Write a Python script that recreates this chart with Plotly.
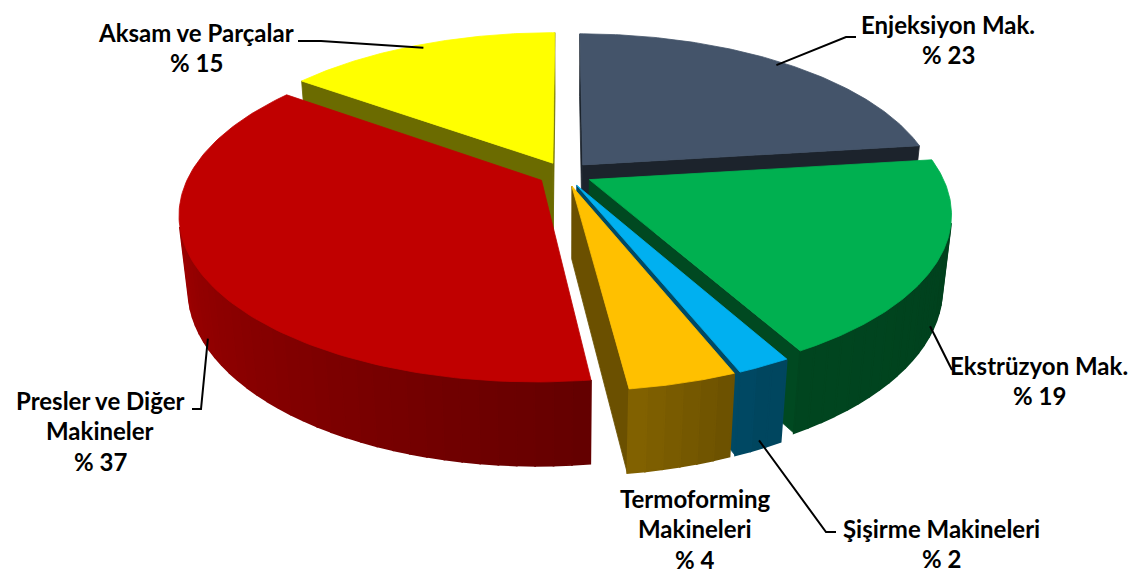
import numpy as np
import plotly.graph_objects as go

labels = ["Enjeksiyon Mak.", "Ekstrüzyon Mak.", "Şişirme Makineleri",
          "Termoforming<br>Makineleri", "Presler ve Diğer<br>Makineler", "Aksam ve Parçalar"]
values = [23, 19, 2, 4, 37, 15]
colors = ["#44546A", "#00B050", "#00B0F0", "#FFC000", "#C00000", "#FFFF00"]

# label placement (centre x, first line y) and leader lines (elbow, end) in pixels
label_pos = [(940, 16), (1031, 357), (933, 520), (687, 490), (92, 392), (188, 24)]
leader = [((838, 29), (848, 29)), ((944, 362), (944, 362)), ((818, 524), (828, 524)),
          None, ((193, 401), (184, 401)), ((313, 33), (290, 33))]
# where the leader touches the slice: (fraction of slice angle, radius, height)
anchor = [(0.5, 0.97, 0.0), (0.5, 1.0, -0.2), (0.5, 1.0, -0.21),
          None, (0.5, 1.0, -0.2), (0.5, 0.97, 0.0)]

W, HGT = 1139, 573
CX, CY = 557, 166
F, D = 1615, 4.59
TILT = np.radians(27.0)
THICK = 0.235
PULL = 0.077
sa, ca = np.sin(TILT), np.cos(TILT)
cam = np.array([0, -D * ca, D * sa])


def proj(p):
    p = np.atleast_2d(p)
    X, Y, Z = p[:, 0], p[:, 1], p[:, 2]
    v = Y * sa + Z * ca
    d = D + Y * ca - Z * sa
    return CX + F * X / d, CY - F * v / d


def rim(th, off, z, r=1.0):
    t = np.radians(np.atleast_1d(th))
    return np.column_stack([off[0] + r * np.sin(t), off[1] + r * np.cos(t), np.full(t.shape, z)])


def shade(hexcol, k):
    h = hexcol.lstrip("#")
    r, g, b = (int(h[i:i + 2], 16) for i in (0, 2, 4))
    return "rgb(%d,%d,%d)" % (r * k, g * k, b * k)


def side_k(th):
    return float(np.interp(th, [90, 155, 175, 270], [0.36, 0.40, 0.53, 0.87]))


def visible(normal_deg, centre):
    t = np.radians(normal_deg)
    n = np.array([np.sin(t), np.cos(t), 0])
    return np.dot(n, cam - centre) > 0


total = sum(values)
ends = np.cumsum(values) / total * 360
starts = ends - np.array(values) / total * 360

fig = go.Figure()
slices = []
for i in range(len(values)):
    a0, a1 = starts[i], ends[i]
    m = np.radians((a0 + a1) / 2)
    off = (PULL * np.sin(m), PULL * np.cos(m))
    cen = np.array([off[0] + 0.5 * np.sin(m), off[1] + 0.5 * np.cos(m), 0])
    depth = D + cen[1] * ca
    slices.append((depth, i, a0, a1, off))

for depth, i, a0, a1, off in sorted(slices, reverse=True):
    faces = []
    apex_t = np.array([[off[0], off[1], 0]])
    apex_b = np.array([[off[0], off[1], -THICK]])
    # cut faces
    for ang, nrm in ((a0, a0 - 90), (a1, a1 + 90)):
        pts = np.vstack([apex_t, rim(ang, off, 0), rim(ang, off, -THICK), apex_b])
        if visible(nrm, pts.mean(axis=0)):
            faces.append((pts, shade(colors[i], 0.42), 0.8))
    # outer curved side, in thin strips for the shading
    nseg = max(2, int(np.ceil((a1 - a0) / 2.5)))
    th = np.linspace(a0, a1, nseg + 1)
    for j in range(nseg):
        tm = (th[j] + th[j + 1]) / 2
        pts = np.vstack([rim([th[j], th[j + 1]], off, 0), rim([th[j + 1], th[j]], off, -THICK)])
        if visible(tm, pts.mean(axis=0)):
            faces.append((pts, shade(colors[i], side_k(tm)), 1.8))
    # top
    faces.append((np.vstack([apex_t, rim(np.linspace(a0, a1, 120), off, 0)]), colors[i], 0.8))
    for pts, col, lw in faces:
        x, y = proj(pts)
        fig.add_trace(go.Scatter(x=np.append(x, x[0]), y=np.append(y, y[0]), mode="lines",
                                 fill="toself", fillcolor=col, line=dict(color=col, width=lw),
                                 hoverinfo="skip", showlegend=False))

# leader lines and labels
for i in range(len(values)):
    if leader[i] is not None:
        t, r, z = anchor[i]
        ang = starts[i] + t * (ends[i] - starts[i])
        m = np.radians((starts[i] + ends[i]) / 2)
        off = (PULL * np.sin(m), PULL * np.cos(m))
        ax, ay = proj(rim(ang, off, z, r))
        (ex, ey), (fx, fy) = leader[i]
        fig.add_trace(go.Scatter(x=[ax[0], ex, fx], y=[ay[0], ey, fy], mode="lines",
                                 line=dict(color="black", width=2),
                                 hoverinfo="skip", showlegend=False))
    lines = labels[i].split("<br>") + ["%% %d" % values[i]]
    x0, y0 = label_pos[i]
    for k, txt in enumerate(lines):
        fig.add_annotation(x=x0, y=y0 + k * 30.5, text="<b>%s</b>" % txt, showarrow=False,
                           xanchor="center", yanchor="middle",
                           font=dict(family="Lato, Arial", size=24, color="black"))

fig.update_layout(
    width=W, height=HGT,
    margin=dict(l=0, r=0, t=0, b=0),
    paper_bgcolor="white", plot_bgcolor="white",
    xaxis=dict(range=[0, W], visible=False, fixedrange=True),
    yaxis=dict(range=[HGT, 0], visible=False, fixedrange=True),
)

fig.write_html("out.html")
